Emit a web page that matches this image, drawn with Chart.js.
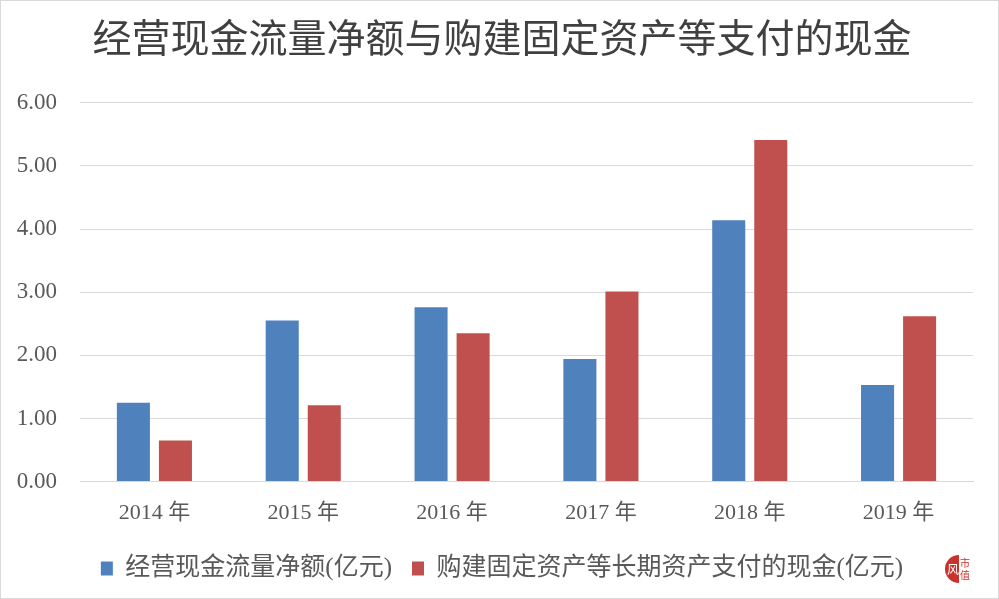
<!DOCTYPE html>
<html>
<head>
<meta charset="utf-8">
<script src="https://cdn.jsdelivr.net/npm/chart.js@4/dist/chart.umd.min.js"></script>
<style>
html,body{margin:0;padding:0;background:#fff;}
#wrap{position:relative;width:999px;height:599px;box-sizing:border-box;border:1px solid #d9d9d9;}
</style>
</head>
<body>
<div id="wrap"><canvas id="c" width="997" height="597"></canvas></div>
<script>
const titleText = "经营现金流量净额与购建固定资产等支付的现金";
const categories = ["2014 年", "2015 年", "2016 年", "2017 年", "2018 年", "2019 年"];
const seriesNames = ["经营现金流量净额(亿元)", "购建固定资产等长期资产支付的现金(亿元)"];
const operatingCash = [1.25, 2.55, 2.76, 1.94, 4.14, 1.53];
const capexCash = [0.65, 1.21, 2.35, 3.01, 5.41, 2.62];
const yTicks = [0, 1, 2, 3, 4, 5, 6];

const serif = "'Liberation Serif', 'Noto Sans CJK SC', serif";

// shift title and legend boxes to be centred on the full page width
const centrePlugin = {
  id: 'centreBlocks',
  afterLayout(chart) {
    const dx = 10;
    [chart.titleBlock, chart.legend].forEach(b => {
      if (b) { b.left += dx; b.right += dx; }
    });
  }
};

const logoPlugin = {
  id: 'logo',
  afterDraw(chart) {
    const ctx = chart.ctx;
    const cx = 958, cy = 568, r = 14;
    ctx.save();
    ctx.fillStyle = '#c8332b';
    ctx.beginPath();
    ctx.arc(cx, cy, r, Math.PI / 2, Math.PI * 1.5);
    ctx.closePath();
    ctx.fill();
    ctx.fillStyle = '#ffffff';
    ctx.font = "12px 'Noto Sans CJK SC'";
    ctx.textAlign = 'center';
    ctx.textBaseline = 'middle';
    ctx.fillText('风', cx - 6, cy);
    ctx.fillStyle = '#c8332b';
    ctx.font = "10px 'Noto Sans CJK SC'";
    ctx.fillText('市', cx + 6, cy - 6);
    ctx.fillText('值', cx + 6, cy + 6);
    ctx.restore();
  }
};

new Chart(document.getElementById('c'), {
  type: 'bar',
  data: {
    labels: categories,
    datasets: [
      { label: seriesNames[0], data: operatingCash, backgroundColor: '#4F81BD', borderWidth: 0 },
      { label: seriesNames[1], data: capexCash, backgroundColor: '#C0504D', borderWidth: 0 }
    ]
  },
  plugins: [centrePlugin, logoPlugin],
  options: {
    responsive: false,
    animation: false,
    layout: { padding: { left: 10, right: 25, top: 8, bottom: 7 } },
    categoryPercentage: 0.565,
    barPercentage: 0.786,
    plugins: {
      title: {
        display: true,
        text: titleText,
        color: '#404040',
        font: { family: "'Noto Sans CJK SC'", size: 39, weight: 'normal' },
        padding: { top: 5, bottom: 42 }
      },
      legend: {
        position: 'bottom',
        labels: {
          boxWidth: 12, boxHeight: 14,
          color: '#595959',
          font: { family: serif, size: 25 },
          padding: 20
        }
      },
      tooltip: { enabled: false }
    },
    scales: {
      x: {
        grid: { display: false },
        border: { display: true, color: '#d9d9d9' },
        ticks: { color: '#595959', font: { family: serif, size: 22 }, padding: 10 }
      },
      y: {
        min: 0, max: 6,
        afterBuildTicks: (axis) => { axis.ticks = yTicks.map(v => ({ value: v })); },
        afterFit: (axis) => { axis.width = 69; },
        grid: { color: '#d9d9d9', drawTicks: false },
        border: { display: false },
        ticks: { color: '#595959', font: { family: serif, size: 23 }, padding: 23,
          callback: (v) => Number(v).toFixed(2) }
      }
    }
  }
});
</script>
</body>
</html>
